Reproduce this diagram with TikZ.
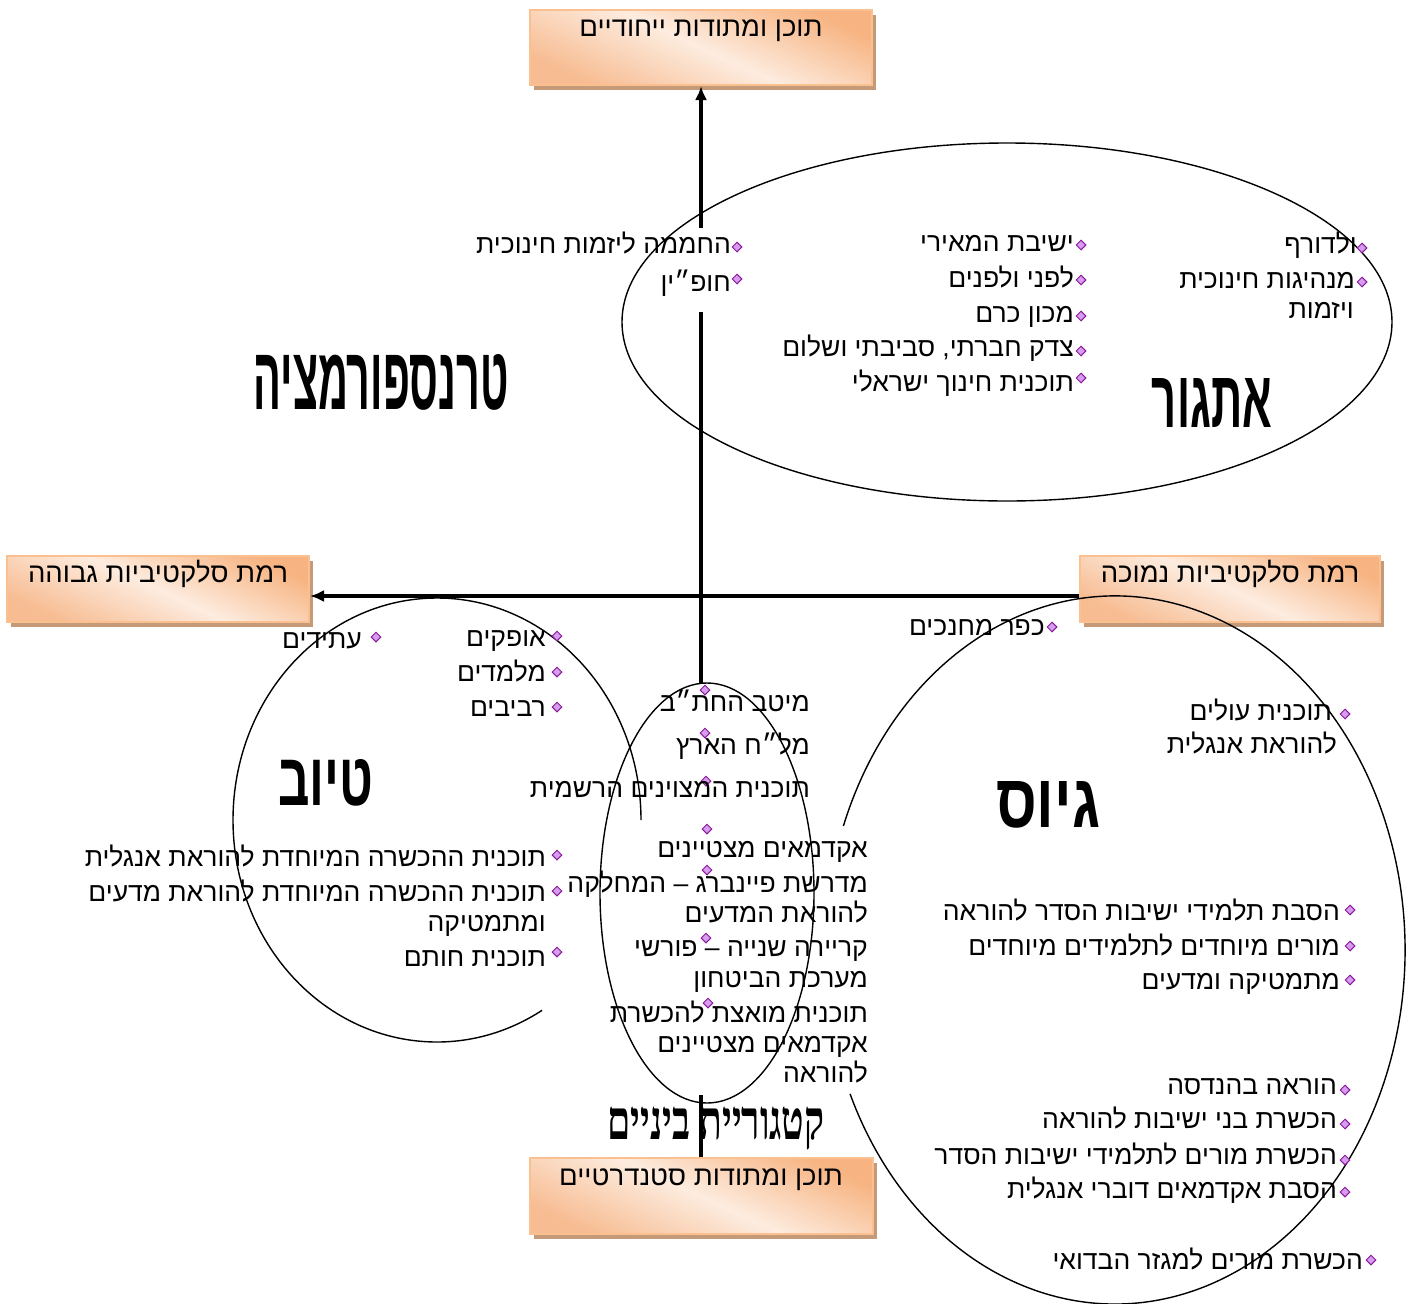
\documentclass[tikz,border=0pt]{standalone}
\usepackage{fontspec}
\setmainfont{Liberation Sans}
\newfontfamily\hebfont[Script=Hebrew]{Liberation Sans}
\newfontfamily\hebserif[Script=Hebrew]{Liberation Serif}
\TeXXeTstate=1
\usetikzlibrary{shapes.geometric,arrows.meta,shadows}
\newcommand\he[1]{\beginR #1\endR}
\definecolor{boxdark}{HTML}{F7B482}
\definecolor{boxdarktwo}{HTML}{F7BC92}
\definecolor{boxlight}{HTML}{FDECDF}
\definecolor{boxedge}{HTML}{FAC08F}
\definecolor{boxshadow}{HTML}{C49A78}
\definecolor{bulfill}{HTML}{D69CF0}
\definecolor{bulborder}{HTML}{8A1A9A}
\tikzset{
  item/.style={font=\hebfont\fontsize{26.5}{31}\selectfont, inner sep=0pt, anchor=base east},
  bul/.style={diamond, draw=bulborder, fill=bulfill, line width=1pt, minimum width=10pt, minimum height=10pt, inner sep=0pt},
  ell/.style={draw=black, line width=1.4pt},
  conn/.style={draw=black, line width=3.5pt},
  biglabel/.style={inner sep=0pt, font=\hebfont\bfseries},
  hbox/.style={rectangle, draw=boxedge, line width=2pt, top color=boxdark, bottom color=boxdarktwo, middle color=boxlight, shading angle=-25,
    drop shadow={shadow xshift=4pt, shadow yshift=-5pt, fill=boxshadow, opacity=1},
    font=\hebfont\fontsize{27.5}{32}\selectfont, inner xsep=4pt, inner ysep=0pt, text height=20pt}
}
\begin{document}
\begin{tikzpicture}[x=1pt,y=-1pt]
\useasboundingbox (0,0) rectangle (1409,1304);
\fill[white] (0,0) rectangle (1409,1304);

% boxes
\node[hbox, minimum width=342pt, minimum height=75pt, text depth=43pt] (tb) at (701,47.5) {\he{תוכן ומתודות ייחודיים}};
\node[hbox, minimum width=302pt, minimum height=66pt, text depth=34pt] (lb) at (158,589) {\he{רמת סלקטיביות גבוהה}};
\node[hbox, minimum width=300pt, minimum height=66pt, text depth=34pt] (rb) at (1230,589) {\he{רמת סלקטיביות נמוכה}};
\node[hbox, minimum width=343pt, minimum height=76pt, text depth=42pt] (bb) at (701,1196) {\he{תוכן ומתודות סטנדרטיים}};

% axes
\coordinate (hline) at (0,596);
\coordinate (v1) at (701,1095);
\coordinate (v2) at (701,683);
\coordinate (v3) at (701,312);
\coordinate (v4) at (701,228);
\draw[conn, -{Latex[length=14pt,width=12pt]}] (rb.west |- hline) -- (lb.east |- hline);
\draw[conn] (bb.north) -- (v1);
\draw[conn] (v2) -- (v3);
\draw[conn, -{Latex[length=14pt,width=12pt]}] (v4) -- (tb.south);

% ellipses
\draw[ell] (1007,322) ellipse [x radius=385, y radius=179];
\draw[ell] (707,893) ellipse [x radius=107, y radius=210];
\draw[ell] (641,820) arc[start angle=0, end angle=-301, x radius=204, y radius=222];
\draw[ell] (843.4,826) arc[start angle=-159.5, end angle=156, x radius=290, y radius=354];

% big labels
\node[biglabel] (lt) at (381,382.5) {\resizebox{255pt}{55pt}{\he{טרנספורמציה}}};
\node[biglabel] (le) at (1212,402.5) {\resizebox{120pt}{49pt}{\he{אתגור}}};
\node[biglabel] (lv) at (326,783) {\resizebox{95pt}{46pt}{\he{טיוב}}};
\node[biglabel] (lg) at (1048,805) {\resizebox{104pt}{46pt}{\he{גיוס}}};
\node[biglabel, font=\hebserif\bfseries] (lk) at (716,1128.5) {\resizebox*{217pt}{43pt}{\he{קטגוריית ביניים}}};

% Etgur items
\node[bul] (b1) at (1362,248) {}; \node[item] (t1) at (1357,253) {\he{ולדורף}};
\node[bul] (b2) at (1362,282) {}; \node[item] (t2) at (1355,288) {\he{מנהיגות חינוכית}};
\node[item] (t2b) at (1354,318) {\he{ויזמות}};
\node[bul] (b3) at (1081,245) {}; \node[item] (t3) at (1074,251) {\he{ישיבת המאירי}};
\node[bul] (b4) at (1081,280) {}; \node[item] (t4) at (1074,287) {\he{לפני ולפנים}};
\node[bul] (b5) at (1081,316) {}; \node[item] (t5) at (1074,322) {\he{מכון כרם}};
\node[bul] (b6) at (1081,351) {}; \node[item] (t6) at (1074,356) {\he{צדק חברתי, סביבתי ושלום}};
\node[bul] (b7) at (1081,378) {}; \node[item] (t7) at (1074,391) {\he{תוכנית חינוך ישראלי}};
\node[bul] (b8) at (737,247) {}; \node[item] (t8) at (731,253) {\he{החממה ליזמות חינוכית}};
\node[bul] (b9) at (737,279) {}; \node[item] (t9) at (731,291) {\he{חופ״ין}};

% Tiuv items
\node[bul] (c1) at (376,637) {}; \node[item] (u1) at (362,648) {\he{עתידים}};
\node[bul] (c2) at (557,636) {}; \node[item] (u2) at (546,646) {\he{אופקים}};
\node[bul] (c3) at (557,672) {}; \node[item] (u3) at (546,681) {\he{מלמדים}};
\node[bul] (c4) at (557,707) {}; \node[item] (u4) at (546,716) {\he{רביבים}};
\node[bul] (c5) at (557,855) {}; \node[item] (u5) at (546,866) {\he{תוכנית ההכשרה המיוחדת להוראת אנגלית}};
\node[bul] (c6) at (557,891) {}; \node[item] (u6) at (546,901) {\he{תוכנית ההכשרה המיוחדת להוראת מדעים}};
\node[item] (u6b) at (546,931) {\he{ומתמטיקה}};
\node[bul] (c7) at (557,952) {}; \node[item] (u7) at (546,966) {\he{תוכנית חותם}};

% middle items
\node[bul] (d1) at (705,690) {}; \node[item] (m1) at (810,711) {\he{מיטב החת״ב}};
\node[bul] (d2) at (705,733) {}; \node[item] (m2) at (810,754) {\he{מל״ח הארץ}};
\node[bul] (d3) at (706,781) {}; \node[item] (m3) at (810,797) {\he{תוכנית המצוינים הרשמית}};
\node[bul] (d4) at (707,829) {}; \node[item] (m4) at (868,857) {\he{אקדמאים מצטיינים}};
\node[bul] (d5) at (707,870) {}; \node[item] (m5) at (868,892) {\he{מדרשת פיינברג – המחלקה}};
\node[item] (m5b) at (868,922) {\he{להוראת המדעים}};
\node[bul] (d6) at (706,938) {}; \node[item] (m6) at (868,956) {\he{קריירה שנייה – פורשי}};
\node[item] (m6b) at (868,987) {\he{מערכת הביטחון}};
\node[bul] (d7) at (708,1003) {}; \node[item] (m7) at (868,1022) {\he{תוכנית מואצת להכשרת}};
\node[item] (m7b) at (868,1052) {\he{אקדמאים מצטיינים}};
\node[item] (m7c) at (868,1082) {\he{להוראה}};

% Giyus items
\node[bul] (g1) at (1052,627) {}; \node[item] (h1) at (1045,635) {\he{כפר מחנכים}};
\node[bul] (g2) at (1345,714) {}; \node[item] (h2) at (1332,720) {\he{תוכנית עולים}};
\node[item] (h2b) at (1337,753) {\he{להוראת אנגלית}};
\node[bul] (g3) at (1350,910) {}; \node[item] (h3) at (1340,920) {\he{הסבת תלמידי ישיבות הסדר להוראה}};
\node[bul] (g4) at (1350,946) {}; \node[item] (h4) at (1340,955) {\he{מורים מיוחדים לתלמידים מיוחדים}};
\node[bul] (g5) at (1350,980) {}; \node[item] (h5) at (1340,989) {\he{מתמטיקה ומדעים}};
\node[bul] (g6) at (1345,1090) {}; \node[item] (h6) at (1337,1094) {\he{הוראה בהנדסה}};
\node[bul] (g7) at (1345,1124) {}; \node[item] (h7) at (1337,1128) {\he{הכשרת בני ישיבות להוראה}};
\node[bul] (g8) at (1345,1160) {}; \node[item] (h8) at (1337,1164) {\he{הכשרת מורים לתלמידי ישיבות הסדר}};
\node[bul] (g9) at (1345,1192) {}; \node[item] (h9) at (1337,1198) {\he{הסבת אקדמאים דוברי אנגלית}};
\node[bul] (g10) at (1371,1260) {}; \node[item] (h10) at (1363,1269) {\he{הכשרת מורים למגזר הבדואי}};
\end{tikzpicture}
\end{document}
